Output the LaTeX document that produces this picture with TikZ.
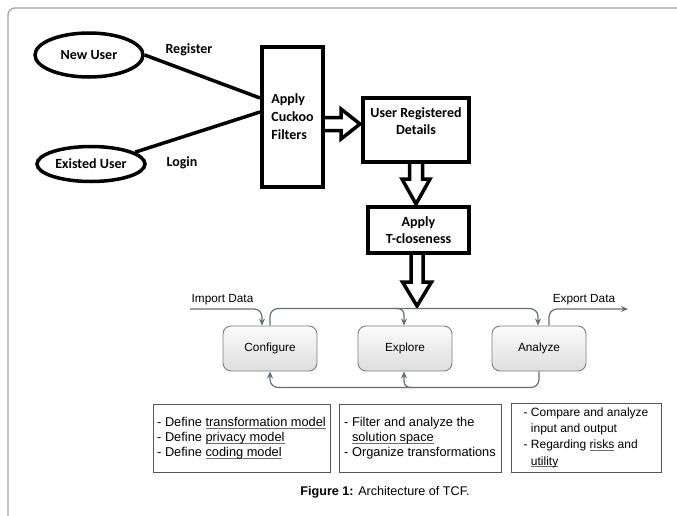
\documentclass[tikz,border=0pt]{standalone}
\usepackage{fontspec}
\setmainfont{Liberation Sans}
\newfontfamily\calibf{Carlito}
\usetikzlibrary{arrows.meta,shapes.geometric,calc}
\pgfdeclarelayer{bg}
\pgfsetlayers{bg,main}
\definecolor{flowc}{RGB}{100,108,126}
\definecolor{framec}{RGB}{165,165,165}
\definecolor{boxc}{RGB}{125,125,125}
\definecolor{tbc}{RGB}{85,85,85}
\definecolor{ulc}{RGB}{110,110,110}
\newsavebox\myulbox
\newcommand\myul[1]{\sbox\myulbox{#1}\rlap{\color{ulc}\rule[-1.9pt]{\wd\myulbox}{0.7pt}}\usebox\myulbox}
\begin{document}
\begin{tikzpicture}[x=1pt,y=-1pt,
  thk/.style={line width=3.5pt},
  lbl/.style={font=\calibf\bfseries\fontsize{14}{17}\selectfont},
  ell/.style={ellipse, draw, line width=3.5pt, inner sep=0pt, fill=white, lbl},
  tbox/.style={draw, line width=4pt, fill=white, inner sep=0pt},
  harrow/.style={draw, line width=3.5pt, fill=white, line join=miter},
  stage/.style={draw=boxc, line width=0.9pt, rounded corners=8pt, top color=gray!3, bottom color=gray!26,
    minimum width=94pt, minimum height=45pt, inner sep=0pt, font=\fontsize{11.8}{14}\selectfont},
  flow/.style={draw=flowc, line width=1.2pt, rounded corners=8pt},
  flowa/.style={flow, -{Stealth[length=7pt,width=6pt]}},
  flbl/.style={font=\fontsize{11.8}{14}\selectfont},
  descr/.style={draw=tbc, line width=1pt, align=left, inner sep=0pt}]
\useasboundingbox (0,0) rectangle (677,515);
% frame
\draw[framec, line width=1.3pt, rounded corners=7pt] (8,525) -- (8,8) -- (690,8);

% top part
\node[ell, minimum width=108pt, minimum height=44pt] (new) at (89,55) {New User};
\node[ell, minimum width=108pt, minimum height=35pt] (exist) at (91,164) {Existed User};
\node[tbox, minimum width=61pt, minimum height=140pt, lbl, font=\calibf\bfseries\fontsize{14}{18}\selectfont, align=left] (cuckoo) at (292.5,117) {Apply\\Cuckoo\\Filters};
\node[tbox, minimum width=106pt, minimum height=64pt] (urd) at (416,130) {};
\node[lbl, align=center] (urdt) at (416,121.5) {User Registered\\Details};
\node[tbox, minimum width=101pt, minimum height=46pt, lbl, align=center] (tcl) at (418.5,230) {Apply\\T-closeness};

\node[lbl] (reg) at (189,50) {Register};
\node[lbl] (login) at (182,163) {Login};

\draw[thk] (new.east) -- ($(cuckoo.west)+(0,-19)$);
\draw[thk] (exist.15) -- ($(cuckoo.west)+(0,-5)$);

\begin{pgfonlayer}{bg}
\draw[harrow] ($(urd.west)+(-41,-12.5)$) -- ++(21,0) -- ++(0,-8.5) -- ($(urd.west)+(-1,-6)$)
  -- ($(urd.west)+(-20,9)$) -- ++(0,-8.5) -- ++(-21,0);
\draw[harrow] ($(urd.south)+(-6.5,-2)$) -- ($(urd.south)+(-6.5,15)$) -- ($(urd.south)+(-14,15)$)
  -- ($(urd.south)+(0,40)$) -- ($(urd.south)+(14,15)$) -- ($(urd.south)+(6.5,15)$) -- ($(urd.south)+(6.5,-2)$);
\draw[harrow] ($(tcl.south)+(-7.5,-2)$) -- ($(tcl.south)+(-7.5,27)$) -- ($(tcl.south)+(-16,27)$)
  -- ($(tcl.south)+(-1.5,51)$) -- ($(tcl.south)+(13,27)$) -- ($(tcl.south)+(4.5,27)$) -- ($(tcl.south)+(4.5,-2)$);
\end{pgfonlayer}

% flow part
\node[stage] (conf) at (270,348.5) {Configure};
\node[stage] (expl) at (405,348.5) {Explore};
\node[stage] (anal) at (539,348.5) {Analyze};

\coordinate (imp) at (190,309);
\coordinate (exp) at (628,309);
\node[flbl] (impl) at (222.5,300) {Import Data};
\node[flbl] (expl2) at (584,300) {Export Data};

\draw[flowa] (imp) -| ($(conf.north)+(-8,0)$);
\draw[flowa] (conf.north) -- ++(0,-17) -| ($(anal.north)+(-1,0)$);
\draw[flowa, rounded corners=6pt] ($(expl.north)+(-10,-17)$) -| ($(expl.north)+(-1,0)$);
\draw[flowa] ($(anal.north)+(10,0)$) |- (exp);
\draw[flowa] (anal.south) -- ++(0,16) -| (conf.south);
\draw[flowa, rounded corners=6pt] ($(expl.south)+(8,16)$) -| ($(expl.south)+(-1,0)$);

% description boxes
\node[descr, minimum width=177pt, minimum height=68pt, font=\fontsize{12.8}{15}\selectfont] (d1) at (241.5,438)
  {- Define \myul{transformation model}\\- Define \myul{privacy model}\\- Define \myul{coding model}};
\node[descr, minimum width=162pt, minimum height=68pt, font=\fontsize{12.8}{15}\selectfont] (d2) at (420,438)
  {- Filter and analyze the\\\phantom{- }\myul{solution space}\\- Organize transformations};
\node[descr, minimum width=150pt, minimum height=69pt, font=\fontsize{12}{16.3}\selectfont] (d3) at (586,437.5)
  {- Compare and analyze\\\phantom{- }input and output\\- Regarding \myul{risks} and\\\phantom{- }\myul{utility}};

\node[font=\fontsize{12.6}{15}\selectfont] (cap) at (385,492) {\textbf{Figure 1:} Architecture of TCF.};
\end{tikzpicture}
\end{document}
